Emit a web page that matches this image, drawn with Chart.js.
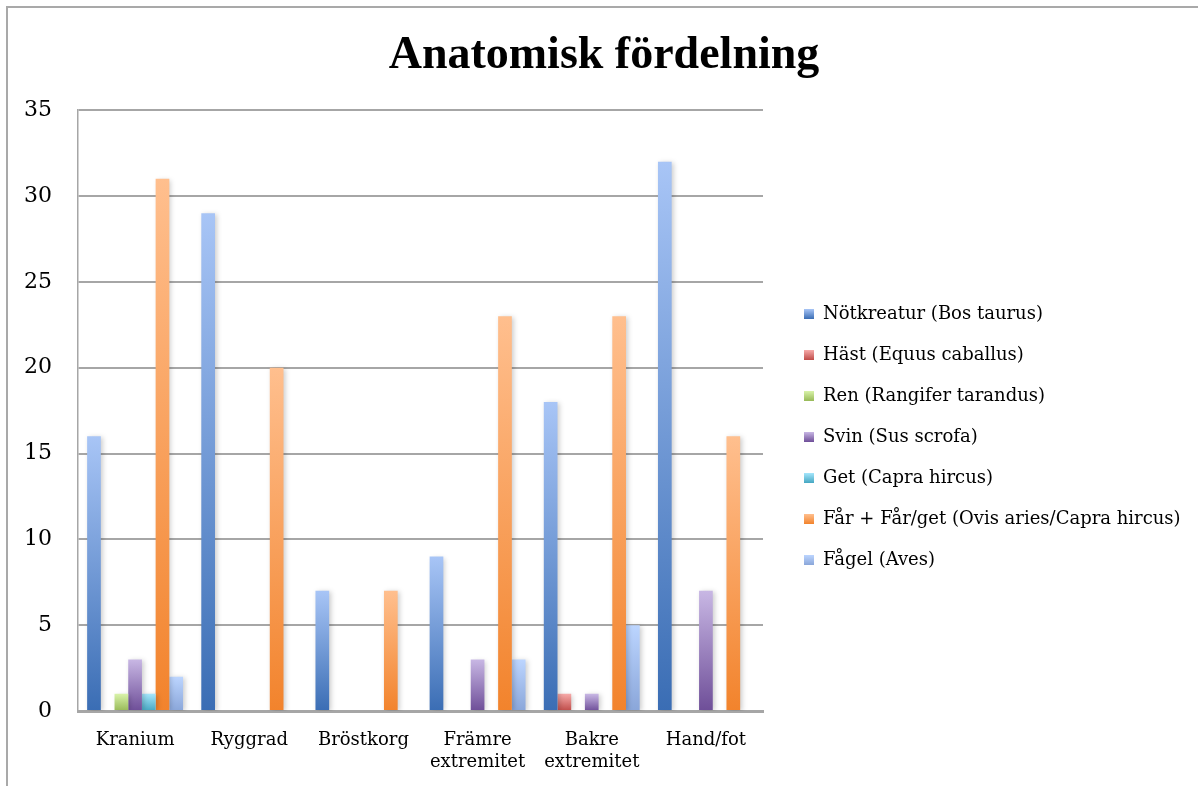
<!DOCTYPE html>
<html>
<head>
<meta charset="utf-8">
<script src="https://cdn.jsdelivr.net/npm/chart.js@4/dist/chart.umd.min.js"></script>
<style>
  html, body { margin: 0; padding: 0; background: #ffffff; }
  #frame {
    position: absolute; left: 6px; top: 6px;
    width: 1192px; height: 780px;
    border-top: 2px solid #a9a9a9;
    border-left: 2px solid #a9a9a9;
  }
  #chart { display: block; }
</style>
</head>
<body>
<div id="frame"><canvas id="chart" width="1192" height="780"></canvas></div>
<script>
// Skeletal element groups (x axis)
const categories = [
  'Kranium', 'Ryggrad', 'Bröstkorg',
  ['Främre', 'extremitet'], ['Bakre', 'extremitet'], 'Hand/fot'
];

// Fragment counts per taxon and element group
const notkreatur = [16, 29, 7, 9, 18, 32];
const hast       = [0, 0, 0, 0, 1, 0];
const ren        = [1, 0, 0, 0, 0, 0];
const svin       = [3, 0, 0, 3, 1, 7];
const get        = [1, 0, 0, 0, 0, 0];
const farFarGet  = [31, 20, 7, 23, 23, 16];
const fagel      = [2, 0, 0, 3, 5, 0];

const seriesNames = [
  'Nötkreatur (Bos taurus)',
  'Häst (Equus caballus)',
  'Ren (Rangifer tarandus)',
  'Svin (Sus scrofa)',
  'Get (Capra hircus)',
  'Får + Får/get (Ovis aries/Capra hircus)',
  'Fågel (Aves)'
];

const yTicks = [0, 5, 10, 15, 20, 25, 30, 35];

// Fill gradients: light at the top of each bar, saturated at the base
const seriesShades = [
  ['#a8c5f6', '#3a6db4'],
  ['#f7aaa9', '#bf4b48'],
  ['#d9f3aa', '#97b957'],
  ['#c8b7e4', '#6e4e98'],
  ['#a5e6fc', '#45a7c2'],
  ['#ffbf8e', '#f2832c'],
  ['#bcd5ff', '#8aa6d9']
];

const seriesValues = [notkreatur, hast, ren, svin, get, farFarGet, fagel];

function barGradient(shade) {
  return function (ctx) {
    const chart = ctx.chart;
    if (!chart.chartArea || ctx.type !== 'data') return shade[1];
    const y = chart.scales.y;
    const top = y.getPixelForValue(ctx.raw);
    const base = y.getPixelForValue(0);
    if (!isFinite(top) || Math.abs(base - top) < 1) return shade[1];
    const g = chart.ctx.createLinearGradient(0, top, 0, base);
    g.addColorStop(0, shade[0]);
    g.addColorStop(1, shade[1]);
    return g;
  };
}

// Small gradient swatches for the legend
function swatch(shade) {
  const c = document.createElement('canvas');
  c.width = 10; c.height = 10;
  const x = c.getContext('2d');
  const g = x.createLinearGradient(0, 0, 0, 10);
  g.addColorStop(0, shade[0]);
  g.addColorStop(1, shade[1]);
  x.fillStyle = g;
  x.fillRect(0, 0, 10, 10);
  return c;
}

const datasets = seriesNames.map((name, i) => ({
  label: name,
  data: seriesValues[i],
  backgroundColor: barGradient(seriesShades[i]),
  borderWidth: 0,
  pointStyle: swatch(seriesShades[i]),
  categoryPercentage: 0.84,
  barPercentage: 1.0
}));

// Soft drop shadow behind the bars
const barShadow = {
  id: 'barShadow',
  beforeDatasetsDraw(chart) {
    const c = chart.ctx;
    c.save();
    c.shadowColor = 'rgba(0,0,0,0.2)';
    c.shadowBlur = 5;
    c.shadowOffsetX = 2;
    c.shadowOffsetY = 1;
  },
  afterDatasetsDraw(chart) {
    chart.ctx.restore();
  }
};

// Legend block: fixed width on the right, list starts below the plot's upper third
const LEGEND_WIDTH = 437;
const LEGEND_INDENT = 18;
const LEGEND_TOP = 274;
const legendPlacement = {
  id: 'legendPlacement',
  afterInit(chart) {
    const lg = chart.legend;
    const fit = lg.fit;
    lg.fit = function () {
      fit.call(this);
      this.width = LEGEND_WIDTH;
    };
  },
  afterLayout(chart) {
    const lg = chart.legend;
    const h = lg.bottom - lg.top;
    lg.left += LEGEND_INDENT;
    lg.right += LEGEND_INDENT;
    lg.top = LEGEND_TOP;
    lg.bottom = LEGEND_TOP + h;
  }
};

const serif = "'DejaVu Serif', 'Liberation Serif', serif";

new Chart(document.getElementById('chart'), {
  type: 'bar',
  data: { labels: categories, datasets },
  plugins: [barShadow, legendPlacement],
  options: {
    responsive: false,
    animation: false,
    layout: { padding: 0 },
    plugins: {
      title: {
        display: true,
        text: 'Anatomisk fördelning',
        color: '#000000',
        font: { family: "'Liberation Serif', serif", size: 46, weight: 'bold', lineHeight: 1.2 },
        padding: { top: 21, bottom: 26 }
      },
      legend: {
        position: 'right',
        align: 'start',
        labels: {
          usePointStyle: true,
          boxWidth: 10,
          boxHeight: 10,
          padding: 23,
          color: '#000000',
          font: { family: serif, size: 18 }
        }
      },
      tooltip: { enabled: false }
    },
    scales: {
      x: {
        afterFit(scale) { scale.height = 77; },
        grid: { display: false, drawTicks: false },
        border: { display: true, color: '#a6a6a6', width: 3 },
        ticks: {
          color: '#000000',
          padding: 18,
          maxRotation: 0,
          autoSkip: false,
          font: { family: serif, size: 18, lineHeight: 1.22 }
        }
      },
      y: {
        min: 0,
        max: 35,
        afterFit(scale) { scale.width = 70; },
        afterBuildTicks(axis) { axis.ticks = yTicks.map(v => ({ value: v })); },
        grid: { color: '#a6a6a6', lineWidth: 2, drawTicks: false },
        border: { display: true, color: '#a6a6a6', width: 1.5 },
        ticks: {
          color: '#000000',
          padding: 26,
          font: { family: serif, size: 22 }
        }
      }
    }
  }
});
</script>
</body>
</html>
